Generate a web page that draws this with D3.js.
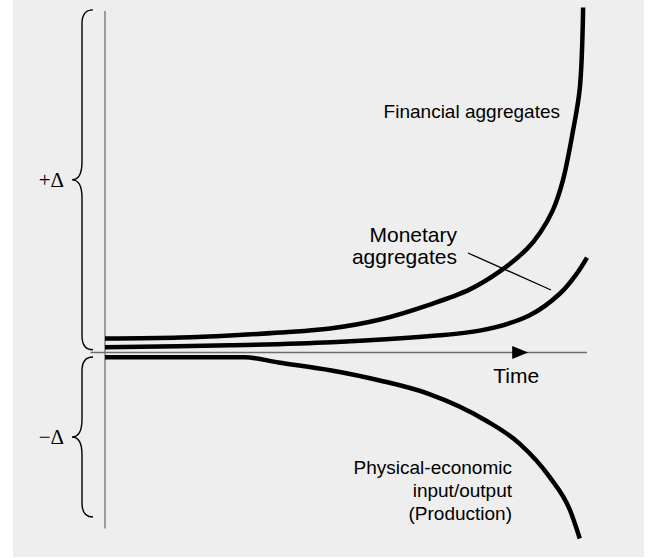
<!DOCTYPE html>
<html>
<head>
<meta charset="utf-8">
<script src="https://cdn.jsdelivr.net/npm/d3@7"></script>
<style>
  body { margin: 0; background: #fff; }
  text { font-family: "Liberation Sans", Arial, sans-serif; fill: #000; }
  .delta { font-family: "Liberation Serif", "Times New Roman", serif; }
</style>
</head>
<body>
<div id="chart"></div>
<script>
// time runs 0..100, values are relative change (arbitrary units, 0 = axis)
const financialT = [0, 15.6, 25.9, 36.3, 46.7, 57.1, 67.4, 75.7, 81.9, 87.6, 90.3, 92.9, 95.0, 97.1, 98.5, 99.2]
const financialV = [4.06, 4.35, 4.93, 5.8, 6.96, 9.57, 13.9, 18.3, 23.5, 30.1, 34.8, 41.2, 49.9, 64.3, 76.5, 100]

const monetaryT = [0, 26, 47, 67, 78, 88, 94.4, 97.9, 100]
const monetaryV = [1.5, 2.1, 3.0, 4.7, 6.4, 10.7, 17.1, 22.9, 27.5]

const physicalT = [0, 29, 36, 47, 57, 67, 79, 86, 92.3, 96.5, 98.5]
const physicalV = [-1.4, -1.4, -2.9, -5.2, -8.1, -11.9, -19.7, -26.4, -36.2, -45.8, -53.9]

const width = 657, height = 558

const x = d3.scaleLinear().domain([0, 100]).range([105, 587])
const y = d3.scaleLinear().domain([0, 100]).range([352.5, 7.5])

const svg = d3.select("#chart")
  .append("svg")
    .attr("width", width)
    .attr("height", height)

// panel
svg.append("rect")
  .attr("x", 13).attr("y", 0)
  .attr("width", 631).attr("height", 557)
  .attr("fill", "#eeeeee")

// axes
svg.append("line")
  .attr("x1", x(0)).attr("x2", x(0))
  .attr("y1", y(99)).attr("y2", y(-51))
  .attr("stroke", "#6e6e6e").attr("stroke-width", 1.3)
svg.append("line")
  .attr("x1", x(-3)).attr("x2", x(100))
  .attr("y1", y(0)).attr("y2", y(0))
  .attr("stroke", "#6e6e6e").attr("stroke-width", 1.3)

// arrow head on time axis
const tip = x(87.8), a0 = y(0)
svg.append("path")
  .attr("d", `M${tip},${a0} L${tip - 16},${a0 - 6.5} L${tip - 16},${a0 + 6.5} Z`)
  .attr("fill", "#000")

svg.append("text")
  .attr("x", tip - 12).attr("y", 383)
  .attr("text-anchor", "middle")
  .style("font-size", "21px")
  .text("Time")

// curly braces
function brace(y0, y1) {
  const xe = 93, xm = 82, xt = 72, r = 14, ym = (y0 + y1) / 2
  return `M${xe},${y0} Q${xm},${y0} ${xm},${y0 + r} L${xm},${ym - r - 4}`
    + ` Q${xm},${ym} ${xt},${ym} Q${xm},${ym} ${xm},${ym + r + 4}`
    + ` L${xm},${y1 - r} Q${xm},${y1} ${xe},${y1}`
}
svg.append("path").attr("d", brace(y(99.3), y(0.8)))
  .attr("fill", "none").attr("stroke", "#000").attr("stroke-width", 1.4)
svg.append("path").attr("d", brace(y(-1.3), y(-47.7)))
  .attr("fill", "none").attr("stroke", "#000").attr("stroke-width", 1.4)

svg.append("text").attr("class", "delta")
  .attr("x", 64).attr("y", (y(99.3) + y(0.8)) / 2 + 7)
  .attr("text-anchor", "end")
  .style("font-size", "21px")
  .text("+\u0394")
svg.append("text").attr("class", "delta")
  .attr("x", 64).attr("y", (y(-1.3) + y(-47.7)) / 2 + 7)
  .attr("text-anchor", "end")
  .style("font-size", "21px")
  .text("\u2212\u0394")

// curves
const smooth = d3.line()
  .x(d => x(d[0]))
  .y(d => y(d[1]))
  .curve(d3.curveCatmullRom.alpha(0.5))
const flat = d3.line()
  .x(d => x(d[0]))
  .y(d => y(d[1]))
  .curve(d3.curveMonotoneX)

const series = [
  {pts: d3.zip(financialT, financialV), line: smooth},
  {pts: d3.zip(monetaryT, monetaryV), line: smooth},
  {pts: d3.zip(physicalT, physicalV), line: flat}
]

svg.selectAll("path.series")
  .data(series)
  .enter()
  .append("path")
    .attr("class", "series")
    .attr("d", d => d.line(d.pts))
    .attr("fill", "none")
    .attr("stroke", "#000")
    .attr("stroke-width", 4.5)

// labels
svg.append("text")
  .attr("x", 560).attr("y", 118)
  .attr("text-anchor", "end")
  .style("font-size", "19px")
  .text("Financial aggregates")

const mon = svg.append("text")
  .attr("text-anchor", "end")
  .style("font-size", "21px")
mon.append("tspan").attr("x", 457).attr("y", 242).text("Monetary")
mon.append("tspan").attr("x", 457).attr("y", 264).text("aggregates")

svg.append("line")
  .attr("x1", 468).attr("y1", 253)
  .attr("x2", 551).attr("y2", 290)
  .attr("stroke", "#000").attr("stroke-width", 1.3)

const phys = svg.append("text")
  .attr("text-anchor", "end")
  .style("font-size", "19px")
phys.append("tspan").attr("x", 512).attr("y", 474).text("Physical-economic")
phys.append("tspan").attr("x", 512).attr("y", 497).text("input/output")
phys.append("tspan").attr("x", 512).attr("y", 520).text("(Production)")
</script>
</body>
</html>
